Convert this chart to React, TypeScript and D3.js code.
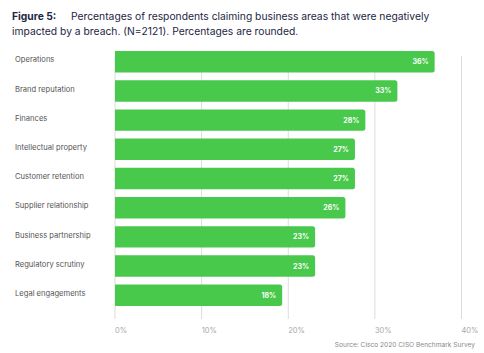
import { useEffect, useRef } from "react";
import * as d3 from "d3";

const WIDTH = 484;
const HEIGHT = 353;
const MARGIN = { top: 51, right: 23, bottom: 47, left: 115 };
const FONT = "Inter, 'Open Sans', sans-serif";

const BAR_COLOR = "#48c94c";
const GRID_COLOR = "#dcdcdc";
const TITLE_COLOR = "#1d2643";
const LABEL_COLOR = "#555555";
const TICK_COLOR = "#a8a8a8";

const CATEGORIES = [
  "Operations",
  "Brand reputation",
  "Finances",
  "Intellectual property",
  "Customer retention",
  "Supplier relationship",
  "Business partnership",
  "Regulatory scrutiny",
  "Legal engagements",
];
// bar lengths (the printed labels are rounded)
const VALUES = [36.9, 32.6, 28.9, 27.7, 27.7, 26.6, 23.1, 23.1, 19.3];
const VALUE_LABELS = ["36%", "33%", "28%", "27%", "27%", "26%", "23%", "23%", "18%"];
const X_TICKS = [0, 10, 20, 30, 40];

export default function App() {
  const svgRef = useRef<SVGSVGElement>(null);

  useEffect(() => {
    if (!svgRef.current) return;
    const svg = d3.select(svgRef.current);
    svg.selectAll("*").remove();

    const x = d3
      .scaleLinear()
      .domain([0, 40])
      .range([MARGIN.left, 461.5]);

    const y = d3
      .scaleBand()
      .domain(CATEGORIES)
      .range([MARGIN.top, HEIGHT - MARGIN.bottom])
      .paddingInner(0.264)
      .paddingOuter(0);

    // title
    const title = svg
      .append("text")
      .attr("x", 12)
      .attr("y", 20)
      .attr("fill", TITLE_COLOR)
      .style("font-family", FONT)
      .style("font-size", "10.3px");
    title.append("tspan").attr("font-weight", 700).text("Figure 5:");
    title
      .append("tspan")
      .attr("x", 71)
      .text("Percentages of respondents claiming business areas that were negatively");
    svg
      .append("text")
      .attr("x", 12)
      .attr("y", 35)
      .attr("fill", TITLE_COLOR)
      .style("font-family", FONT)
      .style("font-size", "10.3px")
      .text("impacted by a breach. (N=2121). Percentages are rounded.");

    // grid
    svg
      .append("g")
      .selectAll("line")
      .data(X_TICKS)
      .enter()
      .append("line")
      .attr("x1", (d) => x(d))
      .attr("x2", (d) => x(d))
      .attr("y1", 56)
      .attr("y2", 319)
      .attr("stroke", GRID_COLOR)
      .attr("stroke-width", 1);

    // x-axis labels
    svg
      .append("g")
      .selectAll("text")
      .data(X_TICKS)
      .enter()
      .append("text")
      .attr("x", (d) => x(d))
      .attr("y", 332.5)
      .attr("text-anchor", "start")
      .attr("fill", TICK_COLOR)
      .style("font-family", FONT)
      .style("font-size", "7.5px")
      .text((d) => `${d}%`);

    // category labels
    svg
      .append("g")
      .selectAll("text")
      .data(CATEGORIES)
      .enter()
      .append("text")
      .attr("x", 15)
      .attr("y", (d) => (y(d) ?? 0) + y.bandwidth() / 2 - 2)
      .attr("dy", "0.35em")
      .attr("fill", LABEL_COLOR)
      .style("font-family", FONT)
      .style("font-size", "7.6px")
      .text((d) => d);

    // bars
    const bars = svg
      .append("g")
      .selectAll("g")
      .data(CATEGORIES)
      .enter()
      .append("g");

    bars
      .append("path")
      .attr("fill", BAR_COLOR)
      .attr("d", (d, i) => {
        const x0 = x(0);
        const x1 = x(VALUES[i]);
        const y0 = y(d) ?? 0;
        const h = y.bandwidth();
        const r = 2.5;
        return `M${x0},${y0}H${x1 - r}Q${x1},${y0} ${x1},${y0 + r}V${y0 + h - r}Q${x1},${y0 + h} ${x1 - r},${y0 + h}H${x0}Z`;
      });

    bars
      .append("text")
      .attr("x", (d, i) => x(VALUES[i]) - 6)
      .attr("y", (d) => (y(d) ?? 0) + y.bandwidth() / 2)
      .attr("dy", "0.35em")
      .attr("text-anchor", "end")
      .attr("fill", "#ffffff")
      .attr("font-weight", 700)
      .style("font-family", FONT)
      .style("font-size", "7px")
      .text((d, i) => VALUE_LABELS[i]);

    // source
    svg
      .append("text")
      .attr("x", 475)
      .attr("y", 347)
      .attr("text-anchor", "end")
      .attr("fill", "#8a8a8a")
      .style("font-family", FONT)
      .style("font-size", "6.6px")
      .text("Source: Cisco 2020 CISO Benchmark Survey");
  }, []);

  return (
    <svg
      ref={svgRef}
      width={WIDTH}
      height={HEIGHT}
      style={{ position: "absolute", left: 0, top: 0, background: "#fff" }}
    ></svg>
  );
}
